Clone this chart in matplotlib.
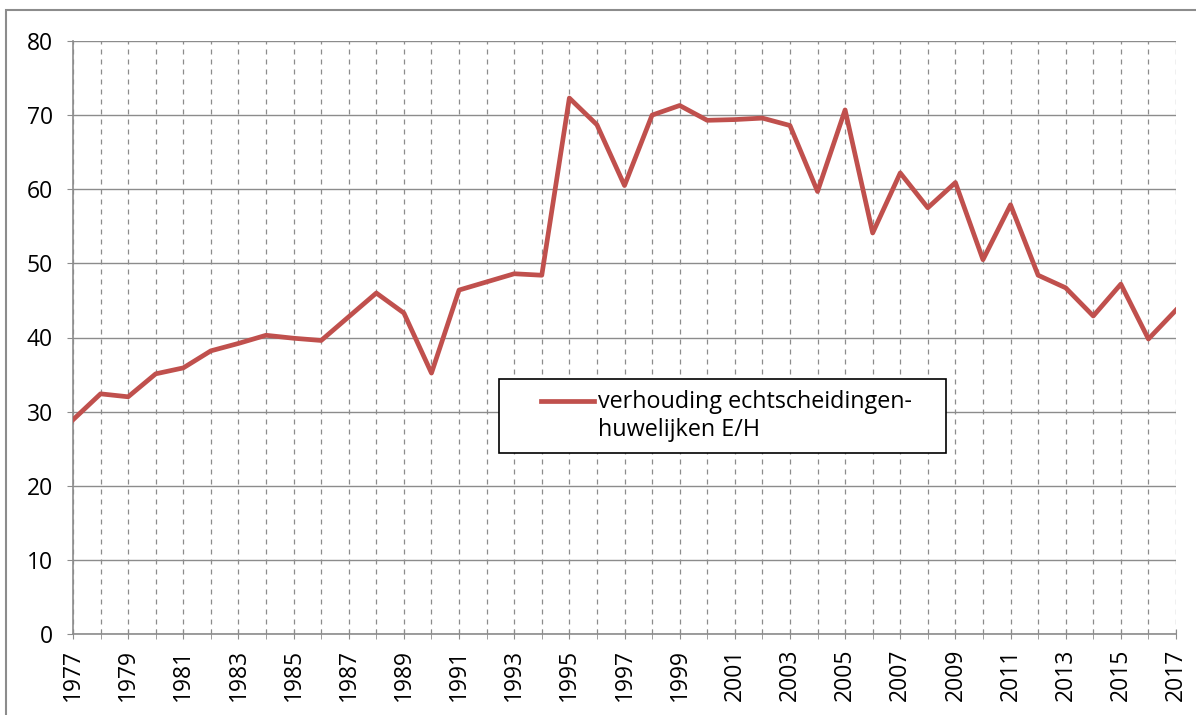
import matplotlib.pyplot as plt
from matplotlib.patches import Rectangle
from matplotlib.ticker import MultipleLocator
from matplotlib.legend_handler import HandlerLine2D

years = list(range(1977, 2018))
ratio = [28.9, 32.4, 32.0, 35.1, 35.9, 38.2, 39.2, 40.3, 39.9, 39.6,
         42.8, 46.0, 43.3, 35.2, 46.4, 47.5, 48.6, 48.4, 72.3, 68.7,
         60.5, 70.0, 71.3, 69.3, 69.4, 69.6, 68.6, 59.7, 70.7, 54.1,
         62.2, 57.5, 60.9, 50.5, 57.9, 48.4, 46.7, 42.9, 47.2, 39.8,
         43.7]
label = 'verhouding echtscheidingen-\nhuwelijken E/H'
tick_years = years[::2]

plt.rcParams['font.family'] = ['Open Sans', 'DejaVu Sans']


class FirstLineHandler(HandlerLine2D):
    # put the legend line next to the first text line, like Excel does
    def create_artists(self, legend, orig_handle, xdescent, ydescent,
                       width, height, fontsize, trans):
        arts = super().create_artists(legend, orig_handle, xdescent, ydescent,
                                      width, height, fontsize, trans)
        for a in arts:
            x = a.get_xdata()
            y = a.get_ydata()
            x0 = x[0] + (x[-1] - x[0]) * 0.37
            a.set_xdata([x0 if i == 0 else v for i, v in enumerate(x)])
            a.set_ydata([v + fontsize * 0.68 for v in y])
        return arts


fig = plt.figure(figsize=(11.96, 7.15), dpi=100)
# outer chart border
fig.patches.append(Rectangle((6 / 1196, -0.1), 1.2, (715 - 10) / 715 + 0.1,
                             transform=fig.transFigure, fill=False,
                             edgecolor='#8c8c8c', linewidth=1.5))

ax = fig.add_axes([73 / 1196, 81 / 715, (1176 - 73) / 1196, (634 - 41) / 715])
line, = ax.plot(years, ratio, color='#C0504D', linewidth=3.4, label=label,
                zorder=3)

ax.set_xlim(1977, 2017)
ax.set_ylim(0, 80)
ax.yaxis.set_major_locator(MultipleLocator(10))
ax.set_xticks(tick_years)
ax.set_xticklabels([str(y) for y in tick_years], rotation=90)
ax.xaxis.set_minor_locator(MultipleLocator(1))

ax.grid(axis='y', color='#8c8c8c', linewidth=1.0, linestyle='-')
ax.grid(axis='x', which='both', color='#8c8c8c', linewidth=0.9,
        linestyle=(0, (4, 4)))
ax.set_axisbelow(True)

for s in ['top', 'right']:
    ax.spines[s].set_visible(False)
for s in ['left', 'bottom']:
    ax.spines[s].set_color('#8c8c8c')
    ax.spines[s].set_linewidth(1.2)

ax.tick_params(axis='x', which='both', direction='inout', length=7,
               color='#8c8c8c', labelsize=16.5, pad=7)
ax.tick_params(axis='y', direction='out', length=4.5, color='#8c8c8c',
               labelsize=16.5, pad=10)

leg = ax.legend(handles=[line], loc='upper left', mode='expand',
                bbox_to_anchor=(499 / 1196, (715 - 454) / 715,
                                (946 - 499) / 1196, 75 / 715),
                bbox_transform=fig.transFigure, fontsize=16.8, frameon=True,
                fancybox=False, framealpha=1, edgecolor='black',
                handlelength=3.6, handletextpad=0.2, borderpad=0.45,
                borderaxespad=0, handler_map={line: FirstLineHandler()})
leg.get_frame().set_linewidth(1.2)
for t in leg.get_texts():
    t.set_linespacing(1.25)

fig.savefig('out.png', dpi=100)
